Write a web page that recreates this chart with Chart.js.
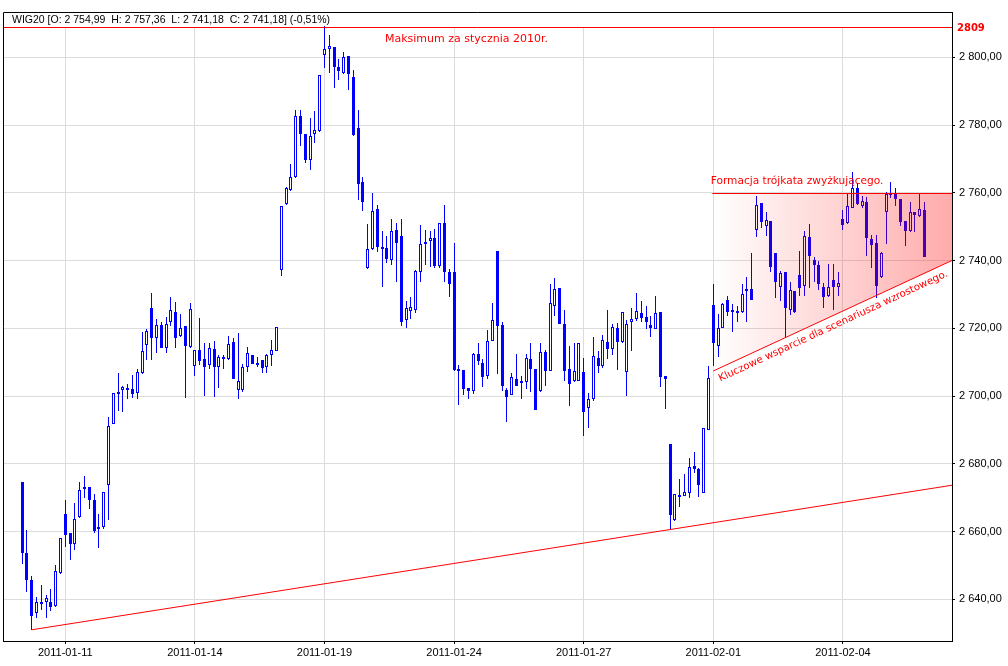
<!DOCTYPE html>
<html>
<head>
<meta charset="utf-8">
<script src="https://cdn.jsdelivr.net/npm/chart.js@4.4.1/dist/chart.umd.min.js"></script>
<style>
body { margin: 0; background: #fff; }
#wrap { width: 1008px; height: 666px; }
</style>
</head>
<body>
<div id="wrap"><canvas id="chart" width="1008" height="666"></canvas></div>
<script>
// WIG20, hourly candles (9 per session)
const days = ['2011-01-10','2011-01-11','2011-01-12','2011-01-13','2011-01-14',
	'2011-01-17','2011-01-18','2011-01-19','2011-01-20','2011-01-21',
	'2011-01-24','2011-01-25','2011-01-26','2011-01-27','2011-01-28',
	'2011-01-31','2011-02-01','2011-02-02','2011-02-03','2011-02-04','2011-02-07'];
const barsPerDay = 9;

const openV = [
	2674.6, 2653.7, 2645.8, 2635.9, 2638.5, 2639.3, 2639.2, 2637.9, 2647.8,
	2665.2, 2659.6, 2656.2, 2664.4, 2673.1, 2673.1, 2669.2, 2661.4, 2661.3,
	2673.6, 2691.8, 2700.9, 2701.9, 2702.4, 2702.0, 2700.9, 2706.8, 2715.0,
	2726.1, 2717.0, 2720.9, 2714.3, 2721.9, 2724.8, 2717.8, 2720.7, 2714.5,
	2708.8, 2713.6, 2711.0, 2709.3, 2713.8, 2708.5, 2711.6, 2711.0, 2716.1,
	2701.8, 2701.8, 2708.5, 2712.2, 2709.8, 2710.5, 2708.5, 2712.1, 2713.4,
	2737.2, 2756.7, 2760.8, 2764.8, 2782.7, 2777.3, 2769.7, 2777.4, 2778.2,
	2800.7, 2802.4, 2803.0, 2797.0, 2795.5, 2800.4, 2794.3, 2779.2, 2763.3,
	2737.9, 2743.4, 2755.3, 2744.1, 2743.7, 2740.2, 2748.9, 2747.2, 2722.5,
	2725.1, 2725.3, 2736.5, 2745.0, 2745.8, 2746.8, 2738.4, 2751.2, 2736.6,
	2736.7, 2708.0, 2707.8, 2702.4, 2701.6, 2712.3, 2709.9, 2706.0, 2716.3,
	2742.7, 2720.9, 2701.8, 2700.2, 2705.1, 2704.3, 2704.0, 2710.8, 2708.1,
	2701.5, 2712.9, 2707.3, 2726.7, 2731.8, 2721.2, 2708.0, 2704.4, 2704.4,
	2707.0, 2696.6, 2699.0, 2711.1, 2708.8, 2716.1, 2714.0, 2720.2, 2716.1,
	2707.0, 2722.0, 2722.7, 2724.6, 2723.4, 2720.9, 2719.9, 2724.8, 2706.0,
	2685.9, 2663.5, 2670.4, 2670.4, 2671.5, 2679.4, 2678.6, 2671.5, 2690.0,
	2726.8, 2714.8, 2720.0, 2728.3, 2724.9, 2725.2, 2724.9, 2731.0, 2731.7,
	2749.0, 2757.0, 2750.1, 2751.6, 2742.1, 2732.2, 2736.5, 2725.3, 2731.0,
	2735.7, 2732.5, 2746.9, 2740.1, 2738.6, 2732.3, 2729.4, 2734.3, 2732.3,
	2752.3, 2751.0, 2755.6, 2761.3, 2756.0, 2757.3, 2746.3, 2745.1, 2735.0,
	2754.3, 2759.5, 2759.5, 2758.3, 2751.6, 2748.6, 2754.3, 2753.1, 2754.99
];
const highV = [
	2674.6, 2660.6, 2646.8, 2640.8, 2644.1, 2641.2, 2643.0, 2650.0, 2658.1,
	2669.3, 2659.6, 2668.5, 2674.6, 2676.3, 2673.1, 2671.2, 2665.1, 2671.7,
	2693.7, 2701.0, 2706.8, 2703.1, 2703.6, 2706.2, 2708.0, 2718.8, 2719.7,
	2730.5, 2722.7, 2722.0, 2723.2, 2729.2, 2727.8, 2724.1, 2720.7, 2727.6,
	2713.6, 2723.0, 2715.8, 2715.8, 2716.3, 2712.1, 2712.1, 2717.6, 2717.1,
	2718.7, 2709.4, 2714.5, 2712.2, 2711.6, 2710.5, 2712.4, 2716.5, 2720.5,
	2756.1, 2761.8, 2768.4, 2784.5, 2784.3, 2777.5, 2782.1, 2784.1, 2794.9,
	2809.1, 2806.5, 2803.0, 2799.4, 2801.5, 2800.4, 2796.3, 2784.5, 2764.8,
	2750.8, 2760.0, 2756.3, 2748.8, 2747.2, 2752.4, 2751.2, 2752.4, 2728.1,
	2729.3, 2737.1, 2750.4, 2749.0, 2748.8, 2749.3, 2751.2, 2756.3, 2737.6,
	2745.3, 2709.3, 2707.8, 2702.4, 2712.8, 2715.8, 2710.9, 2719.4, 2727.4,
	2742.7, 2722.0, 2702.3, 2706.8, 2712.4, 2706.0, 2712.5, 2715.8, 2708.1,
	2715.6, 2713.6, 2733.2, 2734.8, 2731.8, 2725.3, 2714.9, 2715.7, 2715.6,
	2711.2, 2700.9, 2717.3, 2713.4, 2718.1, 2725.3, 2721.4, 2721.7, 2724.9,
	2722.4, 2726.1, 2730.3, 2728.1, 2726.6, 2723.6, 2729.5, 2724.8, 2706.0,
	2685.9, 2671.0, 2675.5, 2677.1, 2681.8, 2683.5, 2678.9, 2690.7, 2708.8,
	2733.0, 2724.1, 2727.6, 2729.5, 2727.3, 2726.6, 2733.0, 2735.0, 2742.1,
	2759.0, 2757.0, 2754.3, 2751.6, 2742.1, 2736.8, 2736.5, 2733.8, 2731.0,
	2742.7, 2748.8, 2750.8, 2740.9, 2739.9, 2733.3, 2738.9, 2738.9, 2736.5,
	2754.8, 2759.8, 2766.0, 2762.8, 2759.0, 2758.8, 2747.4, 2747.5, 2742.4,
	2760.3, 2763.1, 2761.5, 2758.3, 2751.8, 2757.3, 2754.3, 2759.5, 2757.36
];
const lowV = [
	2650.4, 2642.2, 2631.0, 2634.5, 2636.7, 2634.5, 2636.4, 2637.6, 2647.5,
	2655.3, 2651.5, 2654.5, 2664.1, 2670.0, 2666.8, 2659.6, 2655.2, 2660.8,
	2663.5, 2691.8, 2695.7, 2695.4, 2699.0, 2699.3, 2699.0, 2706.5, 2710.6,
	2710.7, 2712.7, 2714.3, 2712.8, 2720.6, 2714.3, 2717.3, 2699.4, 2714.3,
	2706.0, 2709.3, 2700.0, 2708.0, 2699.7, 2702.4, 2708.0, 2710.6, 2705.1,
	2699.2, 2701.3, 2707.2, 2709.4, 2708.5, 2706.9, 2706.9, 2709.0, 2713.2,
	2735.5, 2756.4, 2760.5, 2764.5, 2773.9, 2768.9, 2766.7, 2774.6, 2778.0,
	2796.7, 2795.3, 2791.0, 2793.4, 2795.2, 2790.3, 2776.8, 2757.8, 2754.5,
	2737.6, 2743.1, 2742.4, 2732.3, 2739.4, 2738.8, 2733.7, 2720.7, 2720.2,
	2722.6, 2724.6, 2733.7, 2738.7, 2738.1, 2737.9, 2737.7, 2733.7, 2729.1,
	2707.5, 2697.5, 2700.2, 2699.0, 2700.5, 2709.1, 2702.7, 2705.1, 2716.3,
	2706.5, 2701.5, 2692.2, 2700.2, 2703.1, 2699.2, 2702.1, 2701.3, 2695.8,
	2701.3, 2703.1, 2707.3, 2723.7, 2721.2, 2704.4, 2697.0, 2704.1, 2704.4,
	2688.1, 2690.7, 2698.5, 2706.8, 2708.3, 2710.9, 2712.2, 2707.6, 2715.8,
	2699.9, 2713.4, 2722.2, 2721.8, 2719.7, 2717.5, 2719.7, 2702.7, 2696.3,
	2660.6, 2663.0, 2667.2, 2670.4, 2669.8, 2677.3, 2670.2, 2671.5, 2690.0,
	2708.8, 2711.5, 2720.0, 2723.6, 2719.0, 2721.8, 2724.4, 2721.8, 2728.3,
	2747.0, 2749.6, 2747.2, 2736.5, 2728.9, 2728.0, 2717.3, 2723.9, 2724.6,
	2729.4, 2729.5, 2731.9, 2733.7, 2731.2, 2726.1, 2729.2, 2725.3, 2729.5,
	2749.1, 2750.8, 2755.5, 2756.3, 2755.5, 2741.4, 2737.9, 2729.0, 2734.7,
	2744.8, 2758.5, 2756.0, 2750.1, 2744.3, 2748.5, 2748.4, 2753.0, 2741.18
];
const closeV = [
	2653.8, 2645.8, 2635.0, 2639.3, 2639.2, 2640.3, 2637.7, 2648.5, 2658.1,
	2659.0, 2656.2, 2663.8, 2672.2, 2672.6, 2669.4, 2660.1, 2660.8, 2671.7,
	2691.3, 2701.0, 2701.3, 2702.6, 2701.9, 2700.6, 2707.0, 2713.4, 2719.2,
	2717.0, 2720.9, 2714.3, 2721.4, 2725.3, 2717.2, 2720.0, 2714.8, 2725.6,
	2713.6, 2710.3, 2708.7, 2714.3, 2708.5, 2711.6, 2710.8, 2715.5, 2705.1,
	2704.4, 2708.6, 2712.6, 2709.6, 2709.4, 2708.2, 2712.1, 2713.6, 2720.5,
	2756.1, 2761.3, 2764.8, 2782.7, 2777.3, 2769.7, 2776.7, 2778.4, 2794.9,
	2802.4, 2803.4, 2797.0, 2796.0, 2800.0, 2795.2, 2777.0, 2762.6, 2757.3,
	2743.4, 2754.6, 2743.9, 2743.6, 2740.4, 2748.7, 2745.1, 2721.9, 2726.1,
	2726.4, 2736.9, 2745.0, 2745.6, 2746.8, 2738.4, 2751.2, 2736.5, 2733.0,
	2707.8, 2707.5, 2702.2, 2701.6, 2712.3, 2710.3, 2705.5, 2716.3, 2722.4,
	2720.7, 2703.1, 2699.6, 2705.6, 2703.1, 2703.8, 2711.3, 2707.9, 2695.8,
	2712.9, 2707.5, 2727.6, 2731.5, 2721.4, 2707.3, 2703.6, 2707.3, 2715.6,
	2695.4, 2699.2, 2711.9, 2708.8, 2716.6, 2714.0, 2720.5, 2716.1, 2724.9,
	2721.2, 2722.7, 2725.0, 2723.1, 2721.8, 2720.2, 2724.6, 2705.5, 2705.1,
	2664.9, 2671.0, 2670.9, 2671.7, 2679.2, 2678.4, 2673.6, 2690.7, 2705.2,
	2715.8, 2720.2, 2727.1, 2724.8, 2725.4, 2724.8, 2730.1, 2731.7, 2728.3,
	2756.3, 2751.3, 2752.1, 2738.1, 2733.8, 2736.2, 2726.1, 2731.3, 2724.8,
	2732.0, 2747.2, 2741.4, 2738.7, 2733.0, 2729.1, 2732.3, 2732.3, 2733.5,
	2750.5, 2756.1, 2761.5, 2756.6, 2757.6, 2746.6, 2744.6, 2732.6, 2742.1,
	2759.5, 2760.0, 2758.1, 2751.5, 2748.6, 2754.3, 2753.3, 2755.3, 2741.18
];

const xTickDays = ['2011-01-11','2011-01-14','2011-01-19','2011-01-24','2011-01-27','2011-02-01','2011-02-04'];
const yTicks = [2640, 2660, 2680, 2700, 2720, 2740, 2760, 2780, 2800];

// annotations
const headerText = 'WIG20 [O: 2 754,99  H: 2 757,36  L: 2 741,18  C: 2 741,18] (-0,51%)';
const maxJan2010 = 2809;
const maxNote = 'Maksimum za stycznia 2010r.';
const trendPts = [[2, 2631.0], [135, 2660.6]];
const triStart = 144;
const triTop = 2760;
const triSupport = [[144, 2707.4], [193.7, 2740]];
const triNote = 'Formacja trójkata zwyżkującego.';
const supNote = 'Kluczowe wsparcie dla scenariusza wzrostowego.';

const blue = '#0000ff';
const red = '#ff0000';

function fmtPrice(v) {
	let s = v.toFixed(2).split('.');
	return s[0].replace(/\B(?=(\d{3})+(?!\d))/g, ' ') + ',' + s[1];
}

const tickIdx = xTickDays.map(d => days.indexOf(d) * barsPerDay);
const idx = openV.map((v, i) => i);

const overlay = {
	id: 'overlay',
	beforeDatasetsDraw(chart) {
		const {ctx, chartArea: a, scales: {y}} = chart;
		// snap candles to whole pixels so they stay sharp
		chart.data.datasets.forEach((ds, d) => {
			chart.getDatasetMeta(d).data.forEach(el => {
				el.x = Math.floor(el.x) + 0.5;
				el.y = Math.round(el.y);
				el.base = Math.round(el.base);
				if (ds.label === 'body' && Math.abs(el.base - el.y) < 2) el.base = el.y + 2;
			});
		});
		const yMax = Math.round(y.getPixelForValue(maxJan2010));
		ctx.save();
		ctx.fillStyle = '#fff';
		ctx.fillRect(a.left + 1, a.top + 1, a.right - a.left - 2, yMax - a.top - 1);
		ctx.fillStyle = '#000';
		ctx.font = '10.5px "Liberation Sans"';
		ctx.textBaseline = 'middle';
		ctx.fillText(headerText, a.left + 9, a.top + 8.5);
		ctx.restore();
	},
	afterDatasetsDraw(chart) {
		const {ctx, chartArea: a, scales: {x, y}} = chart;
		ctx.save();

		// max line
		const yMax = Math.round(y.getPixelForValue(maxJan2010)) + 0.5;
		ctx.strokeStyle = red;
		ctx.lineWidth = 1;
		ctx.beginPath();
		ctx.moveTo(a.left, yMax);
		ctx.lineTo(a.right, yMax);
		ctx.stroke();

		// long trend line
		const k = (trendPts[1][1] - trendPts[0][1]) / (trendPts[1][0] - trendPts[0][0]);
		const endV = trendPts[0][1] + (x.max - trendPts[0][0]) * k;
		ctx.beginPath();
		ctx.moveTo(x.getPixelForValue(trendPts[0][0]), y.getPixelForValue(trendPts[0][1]));
		ctx.lineTo(a.right, y.getPixelForValue(endV));
		ctx.stroke();

		// triangle
		const xL = x.getPixelForValue(triStart);
		const xR = a.right;
		const yT = Math.round(y.getPixelForValue(triTop)) + 0.5;
		const ks = (triSupport[1][1] - triSupport[0][1]) / (triSupport[1][0] - triSupport[0][0]);
		const ySL = y.getPixelForValue(triSupport[0][1]);
		const ySR = y.getPixelForValue(triSupport[0][1] + (x.max - triSupport[0][0]) * ks);
		const g = ctx.createLinearGradient(xL, 0, xR, 0);
		g.addColorStop(0, 'rgba(255,0,0,0)');
		g.addColorStop(1, 'rgba(255,0,0,0.33)');
		ctx.fillStyle = g;
		ctx.beginPath();
		ctx.moveTo(xL, yT);
		ctx.lineTo(xR, yT);
		ctx.lineTo(xR, ySR);
		ctx.lineTo(xL, ySL);
		ctx.closePath();
		ctx.fill();

		ctx.beginPath();
		ctx.moveTo(xL - 1, yT);
		ctx.lineTo(xR, yT);
		ctx.stroke();
		ctx.beginPath();
		ctx.moveTo(xL, ySL);
		ctx.lineTo(xR, ySR);
		ctx.stroke();

		// texts
		ctx.fillStyle = red;
		ctx.textBaseline = 'middle';
		ctx.font = '11px "DejaVu Sans"';
		ctx.fillText(maxNote, x.getPixelForValue(75.6), y.getPixelForValue(2805.3));
		ctx.font = '10.6px "DejaVu Sans"';
		ctx.fillText(triNote, xL - 2.6, yT - 12.5);

		ctx.translate(xL, ySL);
		ctx.rotate(Math.atan2(ySR - ySL, xR - xL));
		ctx.textBaseline = 'alphabetic';
		ctx.font = '10.2px "DejaVu Sans"';
		ctx.fillText(supNote, 2, 12.5);
		ctx.restore();
	},
	afterDraw(chart) {
		const {ctx, chartArea: a, scales: {y}} = chart;
		ctx.save();
		ctx.strokeStyle = '#000';
		ctx.lineWidth = 1;
		ctx.beginPath();
		ctx.moveTo(a.left + 0.5, a.bottom);
		ctx.lineTo(a.left + 0.5, a.top + 0.5);
		ctx.lineTo(a.right, a.top + 0.5);
		ctx.stroke();
		ctx.fillStyle = red;
		ctx.font = 'bold 10px "DejaVu Sans"';
		ctx.textBaseline = 'middle';
		ctx.fillText(String(maxJan2010), a.right + 5, y.getPixelForValue(maxJan2010) + 1.5);
		ctx.restore();
	}
};

Chart.defaults.font.family = '"Liberation Sans", Arial, sans-serif';
Chart.defaults.font.size = 11;
Chart.defaults.color = '#000';

const ctx = document.getElementById('chart');
new Chart(ctx, {
	type: 'bar',
	data: {
		datasets: [{
			label: 'wick',
			data: idx.map(i => ({x: i, y: [lowV[i], highV[i]]})),
			backgroundColor: blue,
			barThickness: 1,
			inflateAmount: 0,
			grouped: false,
			order: 2
		}, {
			label: 'body',
			data: idx.map(i => ({x: i, y: [openV[i], closeV[i]]})),
			backgroundColor: c => (c.dataIndex !== undefined && closeV[c.dataIndex] >= openV[c.dataIndex]) ? '#ffffff' : blue,
			borderColor: blue,
			borderWidth: 1,
			borderSkipped: false,
			barThickness: 3,
			inflateAmount: 0,
			grouped: false,
			order: 1
		}]
	},
	options: {
		responsive: false,
		animation: false,
		devicePixelRatio: 1,
		layout: { padding: { left: 3, top: 12, right: 0, bottom: 0 } },
		plugins: { legend: { display: false }, tooltip: { enabled: false } },
		scales: {
			x: {
				type: 'linear',
				min: -3.98,
				max: 193.73,
				offset: false,
				afterFit: s => { s.height = 25; },
				afterBuildTicks: s => { s.ticks = tickIdx.map(v => ({value: v})); },
				ticks: {
					autoSkip: false,
					maxRotation: 0,
					padding: 2,
					callback: v => xTickDays[tickIdx.indexOf(v)] || ''
				},
				grid: { offset: false, color: '#dcdcdc', tickColor: '#000', tickLength: 3 },
				border: { color: '#000', width: 1 }
			},
			y: {
				position: 'right',
				beginAtZero: false,
				min: 2627.69,
				max: 2813.37,
				afterFit: s => { s.width = 56; },
				afterBuildTicks: s => { s.ticks = yTicks.map(v => ({value: v})); },
				ticks: { padding: 4, callback: v => fmtPrice(v) },
				grid: { color: '#dcdcdc', tickColor: '#000', tickLength: 3 },
				border: { color: '#000', width: 1 }
			}
		}
	},
	plugins: [overlay]
});
</script>
</body>
</html>
